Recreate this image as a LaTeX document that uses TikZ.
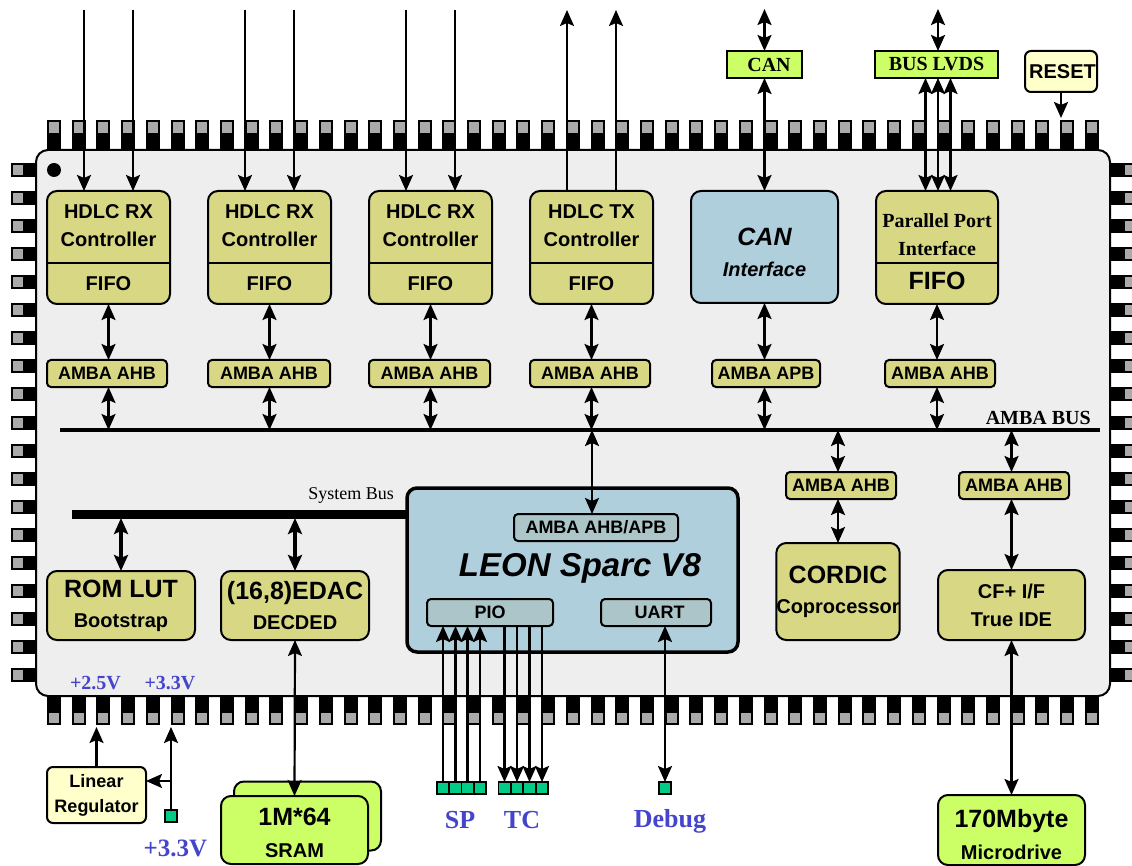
\documentclass[tikz,border=0pt]{standalone}
\usepackage{fontspec}
\usepackage{xcolor}
\setmainfont{Liberation Sans}
\newfontfamily\serifface{Liberation Serif}
\usetikzlibrary{arrows.meta,positioning}
\definecolor{chipgrey}{HTML}{EEEEEE}
\definecolor{pingrey}{HTML}{AAAAAA}
\definecolor{olive}{HTML}{D8D884}
\definecolor{leonblue}{HTML}{B0CFDC}
\definecolor{portblue}{HTML}{ABC5C8}
\definecolor{limegreen}{HTML}{CCFF66}
\definecolor{paleyellow}{HTML}{FFFFCC}
\definecolor{padteal}{HTML}{00CC88}
\definecolor{voltblue}{HTML}{4444CC}
\newcommand{\fs}[2]{\fontsize{#1}{#2}\selectfont}

\begin{document}
\begin{tikzpicture}[
  x=1pt, y=-1pt,
  >={Stealth[length=16pt,width=14pt,inset=3pt]},
  box/.style={
    rectangle,
    rounded corners=10pt,
    draw,
    line width=2pt,
    align=center,
    inner sep=0pt,
    outer sep=0pt,
    font=\bfseries
  },
  block/.style={box, fill=olive},
  leonbox/.style={box, fill=leonblue},
  memory/.style={box, fill=limegreen},
  amba/.style={box, fill=olive, rounded corners=4pt, minimum height=27pt, font=\fs{18}{20}\bfseries},
  port/.style={amba, fill=portblue},
  ext/.style={box, fill=limegreen, rounded corners=0pt, minimum height=27pt, font=\fs{20}{22}\bfseries\serifface},
  pad/.style={rectangle, draw, line width=1.2pt, fill=padteal, minimum size=12pt, inner sep=0pt, outer sep=0pt},
  volt/.style={inner sep=0pt, text=voltblue, font=\bfseries\serifface},
  tag/.style={inner sep=0pt, font=\serifface},
  wire/.style={line width=2.2pt, ->},
  biwire/.style={line width=2.2pt, <->},
  fatwire/.style={line width=3.5pt, <->}
]
\useasboundingbox (0,0) rectangle (1132,866);

\foreach \i in {0,...,42} {
  \pgfmathsetmacro{\px}{54+24.71*\i}
  \fill (\px-7,120) rectangle (\px+7,152);
  \fill[pingrey] (\px-5,122) rectangle (\px+5,133);
  \fill (\px-7,694) rectangle (\px+7,725);
  \fill[pingrey] (\px-5,713) rectangle (\px+5,723);
}
\foreach \i in {0,...,18} {
  \pgfmathsetmacro{\py}{170+28.06*\i}
  \fill (11,\py-7) rectangle (38,\py+7);
  \fill[pingrey] (13,\py-5) rectangle (23,\py+5);
  \fill (1108,\py-7) rectangle (1132,\py+7);
  \fill[pingrey] (1125,\py-5) rectangle (1132,\py+5);
}

\node[box, fill=chipgrey, rounded corners=12pt, minimum width=1074pt, minimum height=546pt] (chip) at (573,423) {};
\fill (54,170) circle (7);

\foreach \blk/\cx/\kind in {rxA/108.5/RX, rxB/269.5/RX, rxC/430.5/RX, txA/591.5/TX} {
  \node[block, minimum width=123pt, minimum height=113pt, font=\fs{20}{28}\bfseries] (\blk) at (\cx,247.5)
    {HDLC \kind\\Controller\\[16pt]FIFO};
  \draw[line width=2pt] (\blk.west |- 0,263) -- (\blk.east |- 0,263);
  \coordinate (\blk-left) at (\cx-24.5,10);
  \coordinate (\blk-right) at (\cx+24.5,10);
}
\foreach \blk in {rxA,rxB,rxC} {
  \draw[wire] (\blk-left) -- (\blk.north -| \blk-left);
  \draw[wire] (\blk-right) -- (\blk.north -| \blk-right);
}
\draw[wire] (txA.north -| txA-left) -- (txA-left);
\draw[wire] (txA.north -| txA-right) -- (txA-right);

\node[leonbox, minimum width=147pt, minimum height=112pt, font=\fs{20}{31}\bfseries\itshape] (canif) at (764.5,247)
  {\rule{0pt}{28pt}{\fs{25}{31}CAN}\\Interface};
\node[block, minimum width=122pt, minimum height=113pt, font=\fs{20}{28}\bfseries\serifface] (ppi) at (937,247.5)
  {\rule{0pt}{22pt}Parallel Port\\Interface\\[6pt]{\fs{25}{28}\normalfont\bfseries FIFO}};
\draw[line width=2pt] (ppi.west |- 0,263) -- (ppi.east |- 0,263);

\node[ext, minimum width=75pt] (canbox) at (764.5,64.5) {\hspace*{9pt}CAN};
\node[ext, minimum width=123pt] (lvds) at (936.5,64.5) {BUS LVDS};
\node[box, fill=paleyellow, rounded corners=6pt, minimum width=72pt, minimum height=41pt, font=\fs{20}{22}\bfseries] (reset) at (1061,71.5) {\raisebox{-5pt}{\hspace*{3pt}RESET}};
\coordinate (canext) at (764.5,9);
\coordinate (lvdsext) at (938,9);
\coordinate (resetpin) at (1061,118);
\draw[biwire] (canext) -- (canbox.north);
\draw[biwire] (lvdsext) -- (lvds.north -| lvdsext);
\draw[biwire] (canbox.south) -- (canif.north);
\foreach \dx in {-12.5,0,12.5} {
  \coordinate (lvdstap) at (938+\dx,64.5);
  \draw[biwire] (lvds.south -| lvdstap) -- (ppi.north -| lvdstap);
}
\draw[wire] (reset.south) -- (resetpin);

\coordinate (ambaleft) at (60,430);
\coordinate (ambaright) at (1100,430);
\draw[line width=4pt] (ambaleft) -- (ambaright);
\node[tag, anchor=east, font=\fs{20}{22}\bfseries\serifface] (ambabus) at (1091,418) {AMBA BUS};

\foreach \name/\cx/\wid/\kind/\src in {ahbA/107/120/AHB/rxA, ahbB/269/122/AHB/rxB, ahbC/429.5/121/AHB/rxC, ahbD/590/120/AHB/txA, apbA/766/108/APB/canif, ahbE/940/110/AHB/ppi} {
  \node[amba, minimum width=\wid pt] (\name) at (\cx,373.5) {AMBA \kind};
  \draw[biwire] (\src.south) -- (\name.north -| \src.south);
  \draw[biwire] (\name.south -| \src.south) -- (ambaleft -| \src.south);
}

\node[amba, minimum width=110pt] (ahbF) at (841,485.5) {AMBA AHB};
\node[amba, minimum width=110pt] (ahbG) at (1014,485.5) {AMBA AHB};
\node[block, minimum width=122pt, minimum height=97pt, font=\fs{20}{30}\bfseries] (cordic) at (838,591.5)
  {{\fs{25}{30}CORDIC}\\Coprocessor};
\node[block, minimum width=147pt, minimum height=70pt, font=\fs{20}{28}\bfseries] (ide) at (1011.5,605)
  {CF+ I/F\\True IDE};
\node[memory, minimum width=147pt, minimum height=70pt, font=\fs{20}{32}\bfseries] (drive) at (1011.5,830)
  {\rule{0pt}{27pt}{\fs{25}{32}170Mbyte}\\Microdrive};
\draw[biwire] (ambaleft -| cordic.north) -- (ahbF.north -| cordic.north);
\draw[biwire] (ahbF.south -| cordic.north) -- (cordic.north);
\draw[biwire] (ambaleft -| ide.north) -- (ahbG.north -| ide.north);
\draw[biwire] (ahbG.south -| ide.north) -- (ide.north);
\draw[biwire] (ide.south) -- (drive.north);

\node[leonbox, line width=3.5pt, minimum width=331pt, minimum height=164pt] (leon) at (572.5,570) {};
\node[port, minimum width=164pt] (ahbapb) at (596,527.5) {AMBA AHB/APB};
\node[inner sep=0pt, font=\fs{33}{36}\bfseries\itshape] (leontxt) at (580,568) {LEON Sparc V8};
\node[port, minimum width=126pt] (pio) at (490,612.5) {PIO};
\node[port, minimum width=110pt] (uart) at (656,612.5) {\hspace*{7pt}UART};
\coordinate (leontap) at (592,430);
\draw[biwire] (leontap) -- (ahbapb.north -| leontap);

\coordinate (sysbusend) at (72,514);
\draw[line width=9pt] (sysbusend) -- (leon.west |- sysbusend);
\node[tag, anchor=east, font=\fs{18}{20}\serifface] (sysbus) at (394,495) {System Bus};

\node[block, minimum width=148pt, minimum height=69pt, font=\fs{20}{30}\bfseries] (rom) at (121,605.5)
  {{\fs{25}{30}ROM LUT}\\Bootstrap};
\node[block, minimum width=148pt, minimum height=69pt, font=\fs{20}{30}\bfseries] (edac) at (295,605.5)
  {{\fs{25}{30}(16,8)EDAC}\\DECDED};
\coordinate (romtap) at (121,518);
\coordinate (edactap) at (295,518);
\draw[fatwire] (romtap) -- (rom.north);
\draw[fatwire] (edactap) -- (edac.north);

\node[memory, minimum width=147pt, minimum height=69pt] (sramback) at (307.5,816) {};
\node[memory, minimum width=147pt, minimum height=68pt, font=\fs{20}{32}\bfseries] (sram) at (294.5,830)
  {\rule{0pt}{24pt}{\fs{25}{32}1M*64}\\SRAM};
\draw[biwire] (edac.south) -- (sram.north);

\node[box, fill=paleyellow, rounded corners=6pt, minimum width=99pt, minimum height=56pt, font=\fs{18}{25}\bfseries] (ldo) at (96.5,795) {Linear\\Regulator};
\node[pad] (vpad) at (171,816) {};
\coordinate (ldopin) at (96.5,727);
\coordinate (vpin) at (171,727);
\coordinate (vtap) at (171,781);
\draw[wire] (ldo.north) -- (ldopin);
\draw[wire] (vpad.north) -- (vpin);
\draw[wire] (vtap) -- (ldo.east |- vtap);
\node[volt, font=\fs{20}{22}\bfseries\serifface] (vtwofive) at (95.5,683) {+2.5V};
\node[volt, font=\fs{20}{22}\bfseries\serifface] (vthree) at (170,683) {+3.3V};
\node[volt, font=\fs{25}{27}\bfseries\serifface] (vext) at (175.5,848) {+3.3V};

\foreach \name/\px in {spA/443, spB/455.5, spC/467.5, spD/480} {
  \node[pad] (\name) at (\px,788) {};
  \draw[wire] (\name.north) -- (pio.south -| \name.north);
}
\foreach \name/\px in {tcA/504.5, tcB/517, tcC/529.5, tcD/542} {
  \node[pad] (\name) at (\px,788) {};
  \draw[wire] (pio.south -| \name.north) -- (\name.north);
}
\node[pad] (dbg) at (665,788) {};
\draw[biwire] (uart.south -| dbg.north) -- (dbg.north);
\node[volt, font=\fs{26}{28}\bfseries\serifface] (sptxt) at (460,820) {SP};
\node[volt, font=\fs{26}{28}\bfseries\serifface] (tctxt) at (522,820) {TC};
\node[volt, font=\fs{26}{28}\bfseries\serifface] (dbgtxt) at (670,821) {Debug};
\end{tikzpicture}
\end{document}
